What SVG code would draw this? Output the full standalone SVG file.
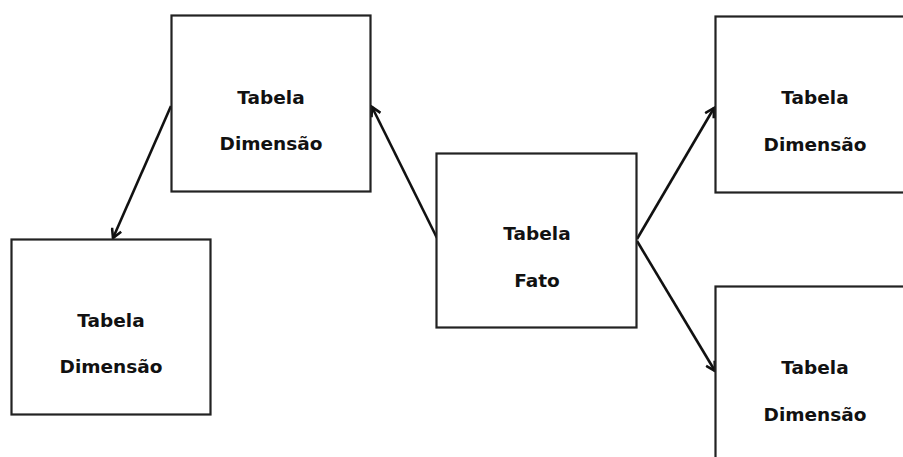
<svg xmlns="http://www.w3.org/2000/svg" width="903" height="457" viewBox="0 0 903 457">
<style>
.box{fill:#fff;stroke:#222;stroke-width:2.2}
.t{font-family:"DejaVu Sans",Verdana,sans-serif;font-weight:bold;font-size:18.5px;fill:#111;text-anchor:middle}
.c{stroke:#111;stroke-width:2.6;fill:none;marker-end:url(#ah)}
</style>
<defs>
<marker id="ah" markerWidth="12" markerHeight="12" refX="10" refY="6" orient="auto" markerUnits="userSpaceOnUse">
<path d="M1,1 L10,6 L1,11" fill="none" stroke="#111" stroke-width="2.6"/>
</marker>
</defs>
<rect width="903" height="457" fill="#fff"/>
<g id="connectors">
<line class="c" x1="437" y1="238" x2="372" y2="107"/>
<line class="c" x1="171" y1="106" x2="113" y2="238"/>
<line class="c" x1="637" y1="239" x2="714" y2="108"/>
<line class="c" x1="637" y1="241" x2="715" y2="371"/>
</g>
<g id="dim1">
<rect class="box" x="171.5" y="15.5" width="199" height="176"/>
<text class="t" x="271" y="104">Tabela</text>
<text class="t" x="271" y="150">Dimensão</text>
</g>
<g id="dim2">
<rect class="box" x="11.5" y="239.5" width="199" height="175"/>
<text class="t" x="111" y="327">Tabela</text>
<text class="t" x="111" y="373">Dimensão</text>
</g>
<g id="fato">
<rect class="box" x="436.5" y="153.5" width="200" height="174"/>
<text class="t" x="537" y="240">Tabela</text>
<text class="t" x="537" y="287">Fato</text>
</g>
<g id="dim3">
<rect class="box" x="715.5" y="16.5" width="200" height="176"/>
<text class="t" x="815" y="104">Tabela</text>
<text class="t" x="815" y="151">Dimensão</text>
</g>
<g id="dim4">
<rect class="box" x="715.5" y="286.5" width="200" height="190"/>
<text class="t" x="815" y="374">Tabela</text>
<text class="t" x="815" y="421">Dimensão</text>
</g>
</svg>
